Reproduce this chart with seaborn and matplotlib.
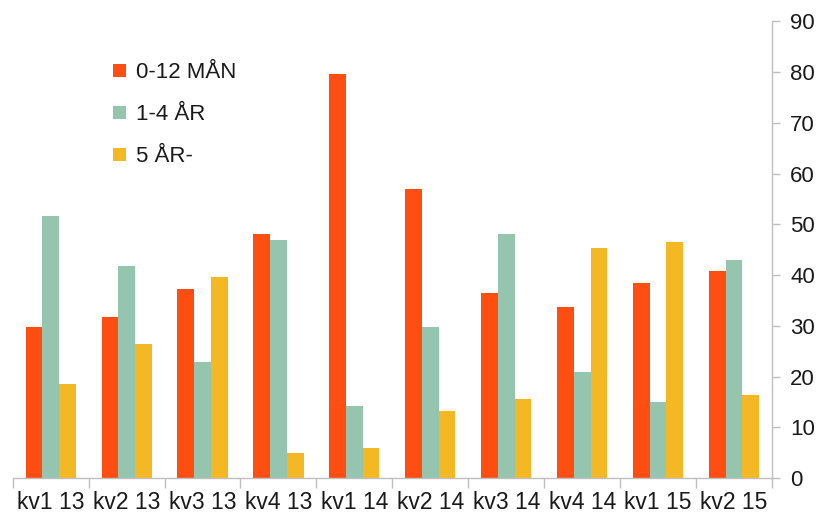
import numpy as np
import pandas as pd
import matplotlib
matplotlib.use("Agg")
import matplotlib.pyplot as plt
import seaborn as sns
from matplotlib.ticker import FixedLocator, MultipleLocator

categories = ["kv1 13", "kv2 13", "kv3 13", "kv4 13", "kv1 14",
              "kv2 14", "kv3 14", "kv4 14", "kv1 15", "kv2 15"]
series_names = ["0-12 MÅN", "1-4 ÅR", "5 ÅR-"]
s_0_12 = [29.7, 31.8, 37.2, 48.1, 79.7, 56.9, 36.4, 33.7, 38.5, 40.7]
s_1_4 = [51.7, 41.8, 22.9, 46.9, 14.1, 29.7, 48.1, 20.8, 15.0, 42.9]
s_5 = [18.5, 26.4, 39.7, 5.0, 6.0, 13.3, 15.6, 45.4, 46.5, 16.4]
colors = ["#FF4E12", "#95C4AF", "#F4B825"]

df = pd.DataFrame({
    "kvartal": categories * 3,
    "serie": [series_names[0]] * 10 + [series_names[1]] * 10 + [series_names[2]] * 10,
    "värde": s_0_12 + s_1_4 + s_5,
})

sns.set_theme(style="white")
plt.rcParams["font.family"] = ["Liberation Sans", "DejaVu Sans"]

fig = plt.figure(figsize=(8.19, 5.15), dpi=100)
ax = fig.add_axes([0.0155, 0.0718, 0.9271, 0.8868])

sns.barplot(data=df, x="kvartal", y="värde", hue="serie", order=categories,
            hue_order=series_names, palette=colors, width=0.66, gap=0,
            saturation=1, edgecolor="none", ax=ax)

ax.set_xlim(-0.5, len(categories) - 0.5)
ax.set_ylim(0, 90)
ax.set_xlabel("")
ax.set_ylabel("")

# y axis on the right
ax.yaxis.tick_right()
ax.yaxis.set_major_locator(MultipleLocator(10))
ax.tick_params(axis="y", which="major", right=True, left=False, length=6,
               width=1, color="#BFBFBF", labelsize=16, pad=7,
               labelcolor="#1a1a1a")

for s in ["top", "left"]:
    ax.spines[s].set_visible(False)
for s in ["right", "bottom"]:
    ax.spines[s].set_color("#BFBFBF")
    ax.spines[s].set_linewidth(1)

# category separators
ax.xaxis.set_minor_locator(FixedLocator(np.arange(-0.5, len(categories), 1.0)))
ax.tick_params(axis="x", which="minor", bottom=True, length=7, width=1,
               color="#BFBFBF")
ax.tick_params(axis="x", which="major", bottom=False, length=0,
               labelsize=16.5, pad=9, labelcolor="#1a1a1a")

leg = ax.legend(loc="upper left", bbox_to_anchor=(0.121, 0.93), frameon=False,
                fontsize=16, handlelength=0.55, handleheight=0.55,
                handletextpad=0.45, labelspacing=0.95, borderaxespad=0)
for t in leg.get_texts():
    t.set_color("#1a1a1a")

fig.savefig("out.png", dpi=100)
